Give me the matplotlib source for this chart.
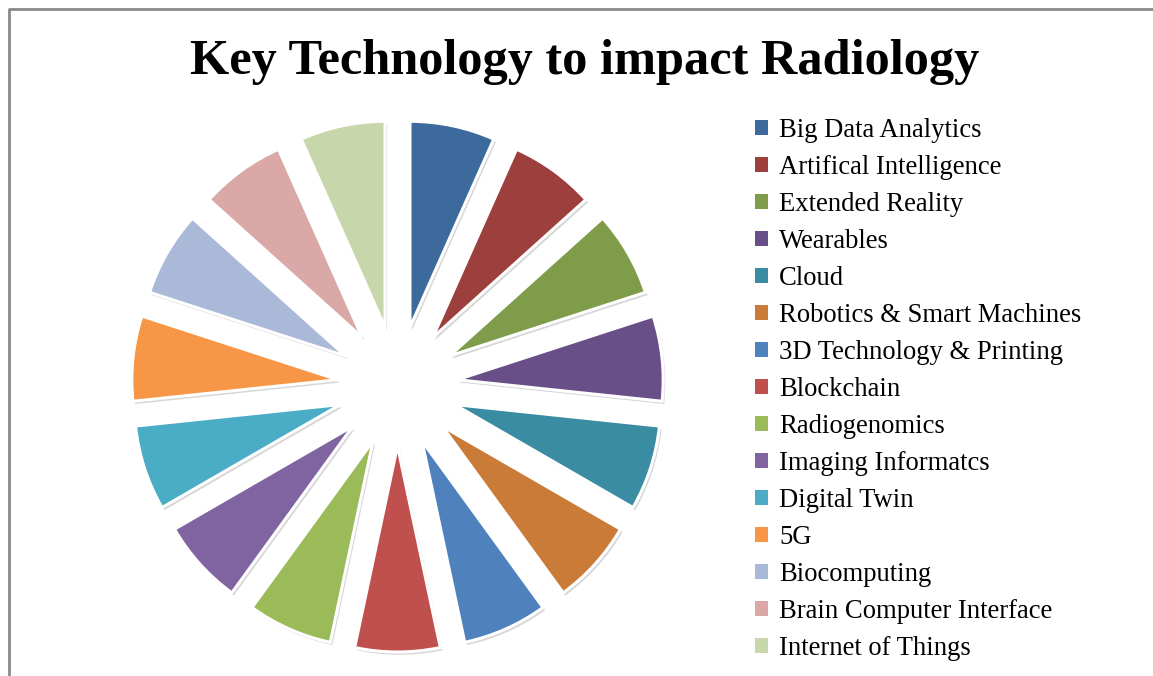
"""
Key Technology to impact Radiology - exploded pie with legend
"""

import matplotlib
matplotlib.use('Agg')
import matplotlib.pyplot as plt
import matplotlib.patheffects as pe
from matplotlib.patches import Patch
from matplotlib.lines import Line2D

plt.rcParams['font.family'] = ['Liberation Serif', 'DejaVu Serif']

# data
technologies = [
    'Big Data Analytics', 'Artifical Intelligence', 'Extended Reality',
    'Wearables', 'Cloud', 'Robotics & Smart Machines',
    '3D Technology & Printing', 'Blockchain', 'Radiogenomics',
    'Imaging Informatcs', 'Digital Twin', '5G', 'Biocomputing',
    'Brain Computer Interface', 'Internet of Things',
]
shares = [1, 1, 1, 1, 1, 1, 1, 1, 1, 1, 1, 1, 1, 1, 1]
slice_colors = [
    '#3d6a9c', '#9c3f3d', '#7f9c4a', '#684f88', '#3a8ca2', '#cb7b38',
    '#4f81bd', '#c0504d', '#9bbb59', '#8064a2', '#4bacc6', '#f79646',
    '#aab9d8', '#d9a8a7', '#c7d7ab',
]

W, H = 1153, 676
fig = plt.figure(figsize=(W / 100, H / 100), dpi=100)
fig.patch.set_facecolor('white')

# axes in pixel units, y measured upward
ax = fig.add_axes([0, 0, 1, 1])

cx, cy = 397.5, H - 386
radius = 206
# matplotlib applies explode in data units (here pixels)
explode = [60] * len(shares)

wedges, _ = ax.pie(
    shares, colors=slice_colors, explode=explode, startangle=90,
    counterclock=False, center=(cx, cy), radius=radius,
    wedgeprops=dict(edgecolor='white', linewidth=2.2),
)
for w in wedges:
    w.set_path_effects([
        pe.SimplePatchShadow(offset=(1.5, -2), shadow_rgbFace='0.55', alpha=0.35),
        pe.Normal(),
    ])

ax.set_xlim(0, W)
ax.set_ylim(0, H)
ax.set_aspect('equal')
ax.axis('off')

# chart border (cut at right and bottom in the original)
fig.add_artist(Line2D([8.5 / W, 8.5 / W, 1.0], [0.0, 1 - 9 / H, 1 - 9 / H],
                      transform=fig.transFigure, color='#8a8a8a', linewidth=2.0))

fig.text(585 / W, 1 - 62 / H, 'Key Technology to impact Radiology',
         ha='center', va='center', fontsize=36.3, fontweight='bold')

handles = [Patch(facecolor=c, edgecolor='none') for c in slice_colors]
fig.legend(handles, technologies, loc='upper left',
           bbox_to_anchor=(755 / W, 1 - 118 / H), frameon=False,
           fontsize=19.2, handlelength=0.5, handleheight=0.5,
           handletextpad=0.4, labelspacing=0.45, borderpad=0,
           borderaxespad=0)

fig.savefig('out.png', dpi=100, facecolor='white')
